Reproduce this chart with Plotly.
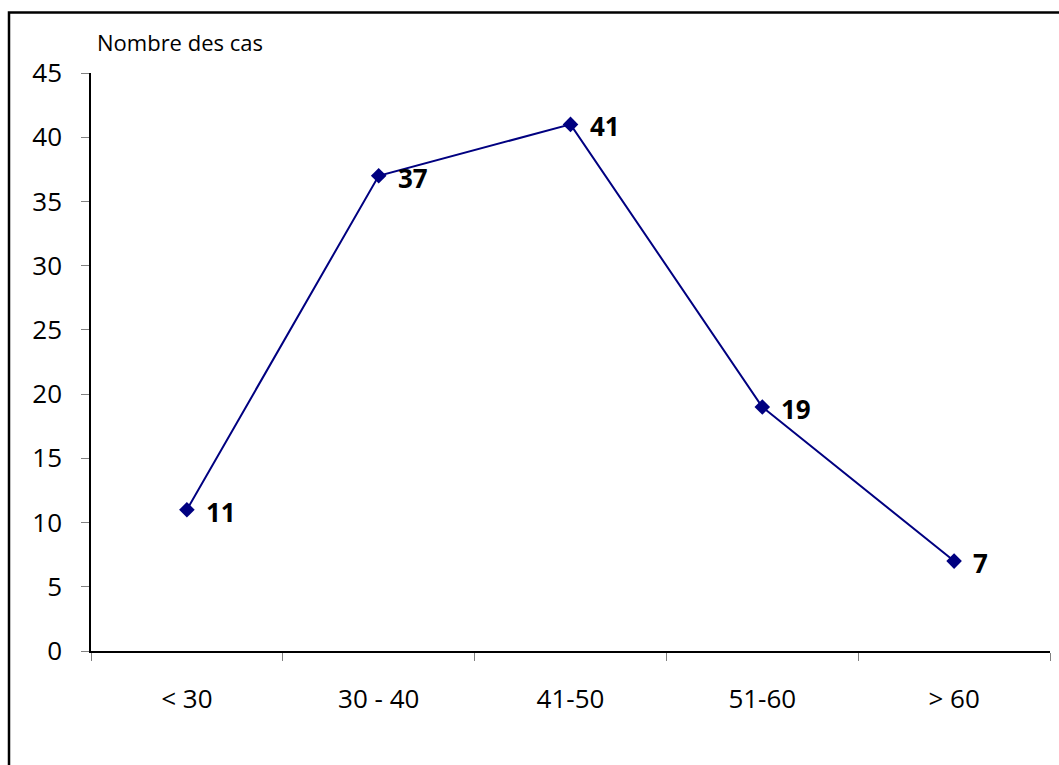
import plotly.graph_objects as go

# Age groups and number of cases
age_groups = ["< 30", "30 - 40", "41-50", "51-60", "> 60"]
cases = [11, 37, 41, 19, 7]
y_ticks = [0, 5, 10, 15, 20, 25, 30, 35, 40, 45]

W, H = 1059, 765
ML, MR, MT, MB = 91, 9, 73, 114
PW, PH = W - ML - MR, H - MT - MB

def px_x(px):
    return (px - ML) / PW

def px_y(py):
    return 1 - (py - MT) / PH

fig = go.Figure()
fig.add_trace(go.Scatter(
    x=age_groups, y=cases, mode="lines+markers",
    line=dict(color="#000080", width=2),
    marker=dict(symbol="diamond", size=12, color="#000080"),
    cliponaxis=False, showlegend=False,
))

# value labels next to each point
for cat, val in zip(age_groups, cases):
    fig.add_annotation(
        x=cat, y=val, text=f"<b>{val}</b>", showarrow=False,
        xanchor="left", yanchor="middle", xshift=17, yshift=-2,
        font=dict(family="Open Sans", size=26, color="black"),
    )

# axis title placed above the y axis
fig.add_annotation(
    xref="paper", yref="paper", x=px_x(95), y=px_y(42),
    text="Nombre des cas", showarrow=False,
    xanchor="left", yanchor="middle",
    font=dict(family="Open Sans", size=22, color="black"),
)

# outer frame (left and top edges)
fig.add_shape(
    type="path", xref="paper", yref="paper",
    path=f"M {px_x(9)},{px_y(770)} L {px_x(9)},{px_y(12.5)} L {px_x(1062)},{px_y(12.5)}",
    line=dict(color="black", width=2.5),
)

fig.update_layout(
    width=W, height=H,
    margin=dict(l=ML, r=MR, t=MT, b=MB),
    paper_bgcolor="white", plot_bgcolor="white",
    font=dict(family="Open Sans", size=26, color="black"),
    xaxis=dict(
        type="category", range=[-0.5, 4.5], tickson="boundaries",
        ticks="outside", ticklen=8, tickcolor="#808080", tickwidth=1,
        showline=True, linecolor="black", linewidth=1.5,
        showgrid=False, zeroline=False,
        tickfont=dict(family="Open Sans", size=26),
        ticklabelstandoff=24,
    ),
    yaxis=dict(
        range=[0, 45], tickvals=y_ticks,
        ticks="outside", ticklen=8, tickcolor="#808080", tickwidth=1,
        showline=True, linecolor="black", linewidth=1.5,
        showgrid=False, zeroline=False,
        tickfont=dict(family="Open Sans", size=26),
        ticklabelstandoff=14,
    ),
)

fig.write_html("out.html")
